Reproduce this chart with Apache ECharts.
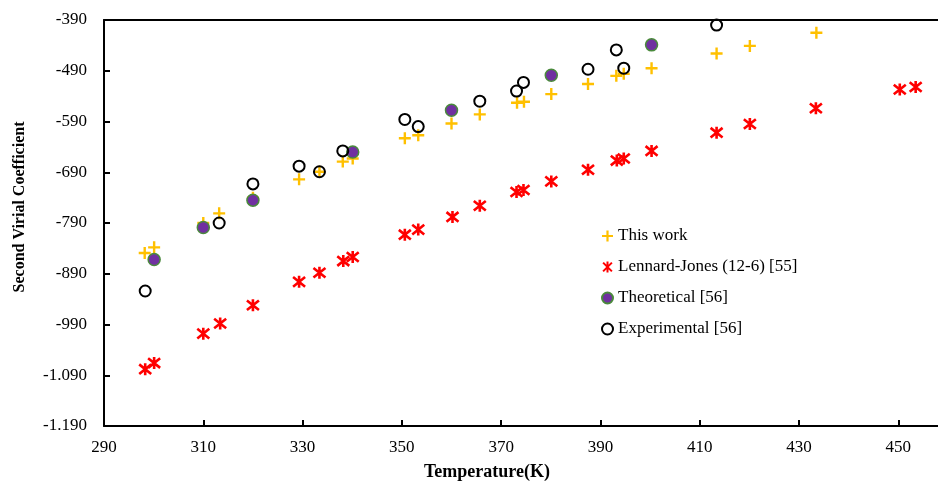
<!DOCTYPE html>
<html>
<head>
<meta charset="utf-8">
<script src="https://cdn.jsdelivr.net/npm/echarts@6/dist/echarts.min.js"></script>
<style>
  html, body { margin: 0; padding: 0; background: #fff; }
  #chart { width: 938px; height: 482px; }
</style>
</head>
<body>
<div id="chart"></div>
<script>
// values (T in K, B in cm3/mol)
var xTicks = [290, 310, 330, 350, 370, 390, 410, 430, 450];

var thisWorkT = [298.2, 300.1, 310, 313.2, 320, 329.3, 333.4, 338.1, 340.1, 350.6, 353.3, 360, 365.7, 373.2, 374.6, 380.1, 387.5, 393.2, 394.7, 400.3, 413.4, 420.1, 433.5];
var thisWorkB = [-849, -838, -790, -771, -740, -704, -689, -669, -663, -623, -617, -594, -576, -553, -551, -536, -516, -500, -496, -485, -456, -441, -415];

var ljT = [298.3, 300.1, 310, 313.4, 320, 329.3, 333.4, 338.2, 340.1, 350.6, 353.3, 360.2, 365.7, 373.1, 374.5, 380.1, 387.5, 393.3, 394.7, 400.3, 413.4, 420.1, 433.4, 450.3, 453.5];
var ljB = [-1078, -1066, -1008, -988, -952, -906, -888, -865, -857, -813, -803, -778, -756, -729, -725, -708, -685, -667, -663, -648, -612, -595, -564, -527, -522];

var theoT = [300.1, 310, 320, 340.1, 360, 380.1, 400.3];
var theoB = [-862, -799, -745, -650, -568, -499, -439];

var expT = [298.3, 313.2, 320, 329.3, 333.4, 338.1, 350.6, 353.3, 365.7, 373.1, 374.5, 387.5, 393.2, 394.7, 413.4];
var expB = [-924, -790, -713, -678, -689, -648, -586, -600, -550, -530, -513, -487, -449, -485, -400];

function pairs(t, b) {
  var out = [];
  for (var i = 0; i < t.length; i++) out.push([t[i], b[i]]);
  return out;
}

// -1190 -> "-1.190"
function fmtY(v) {
  var a = Math.abs(v);
  var s = a >= 1000 ? Math.floor(a / 1000) + '.' + String(a % 1000).padStart(3, '0') : String(a);
  return (v < 0 ? '-' : '') + s;
}

var serif = 'Liberation Serif';
var plusPath = 'path://M4,0H6V4H10V6H6V10H4V6H0V4H4Z';
var starPath = 'path://M1,1L9,9M1,9L9,1M5,0L5,10';

var chart = echarts.init(document.getElementById('chart'));
chart.setOption({
  animation: false,
  grid: { left: 104, top: 20, right: 0, bottom: 56 },
  legend: {
    orient: 'vertical',
    left: 601,
    top: 226,
    padding: 0,
    itemWidth: 11,
    itemHeight: 11,
    itemGap: 11,
    itemTextGap: 3,
    textStyle: { fontFamily: serif, fontSize: 17, color: '#000', lineHeight: 20 },
    data: ['This work', 'Lennard-Jones (12-6) [55]', 'Theoretical [56]', 'Experimental [56]']
  },
  xAxis: [{
    type: 'value',
    min: 290,
    max: 458,
    splitLine: { show: false },
    axisLine: { lineStyle: { color: '#000', width: 2 } },
    axisTick: { inside: true, length: 6, customValues: xTicks, lineStyle: { color: '#000', width: 2 } },
    axisLabel: { customValues: xTicks, margin: 13, fontFamily: serif, fontSize: 17, color: '#000' }
  }, {
    type: 'value',
    position: 'top',
    min: 290,
    max: 458,
    splitLine: { show: false },
    axisLine: { show: true, lineStyle: { color: '#000', width: 2 } },
    axisTick: { show: false },
    axisLabel: { show: false }
  }],
  yAxis: {
    type: 'value',
    min: -1190,
    max: -390,
    interval: 100,
    splitLine: { show: false },
    axisLine: { show: true, lineStyle: { color: '#000', width: 2 } },
    axisTick: { show: true, inside: true, length: 6, lineStyle: { color: '#000', width: 2 } },
    axisLabel: { margin: 17, fontFamily: serif, fontSize: 17, color: '#000', formatter: fmtY }
  },
  graphic: [{
    type: 'text',
    x: 20,
    y: 207,
    rotation: Math.PI / 2,
    style: {
      text: 'Second Virial Coefficient',
      font: 'bold 16px "Liberation Serif"',
      fill: '#000',
      align: 'center',
      verticalAlign: 'middle'
    }
  }, {
    type: 'text',
    x: 487,
    y: 472,
    style: {
      text: 'Temperature(K)',
      font: 'bold 18px "Liberation Serif"',
      fill: '#000',
      align: 'center',
      verticalAlign: 'middle'
    }
  }],
  series: [{
    name: 'This work',
    type: 'scatter',
    symbol: plusPath,
    symbolSize: 12,
    itemStyle: { color: '#FFC000', opacity: 1 },
    data: pairs(thisWorkT, thisWorkB)
  }, {
    name: 'Lennard-Jones (12-6) [55]',
    type: 'scatter',
    symbol: starPath,
    symbolSize: 12,
    itemStyle: { color: 'rgba(0,0,0,0)', borderColor: '#FF0000', borderWidth: 2.6, opacity: 1 },
    data: pairs(ljT, ljB)
  }, {
    name: 'Theoretical [56]',
    type: 'scatter',
    symbol: 'circle',
    symbolSize: 12,
    itemStyle: { color: '#7030A0', borderColor: '#4A8A3C', borderWidth: 1.5, opacity: 1 },
    data: pairs(theoT, theoB)
  }, {
    name: 'Experimental [56]',
    type: 'scatter',
    symbol: 'circle',
    symbolSize: 11,
    itemStyle: { color: 'rgba(0,0,0,0)', borderColor: '#000', borderWidth: 2, opacity: 1 },
    data: pairs(expT, expB)
  }]
});
</script>
</body>
</html>
